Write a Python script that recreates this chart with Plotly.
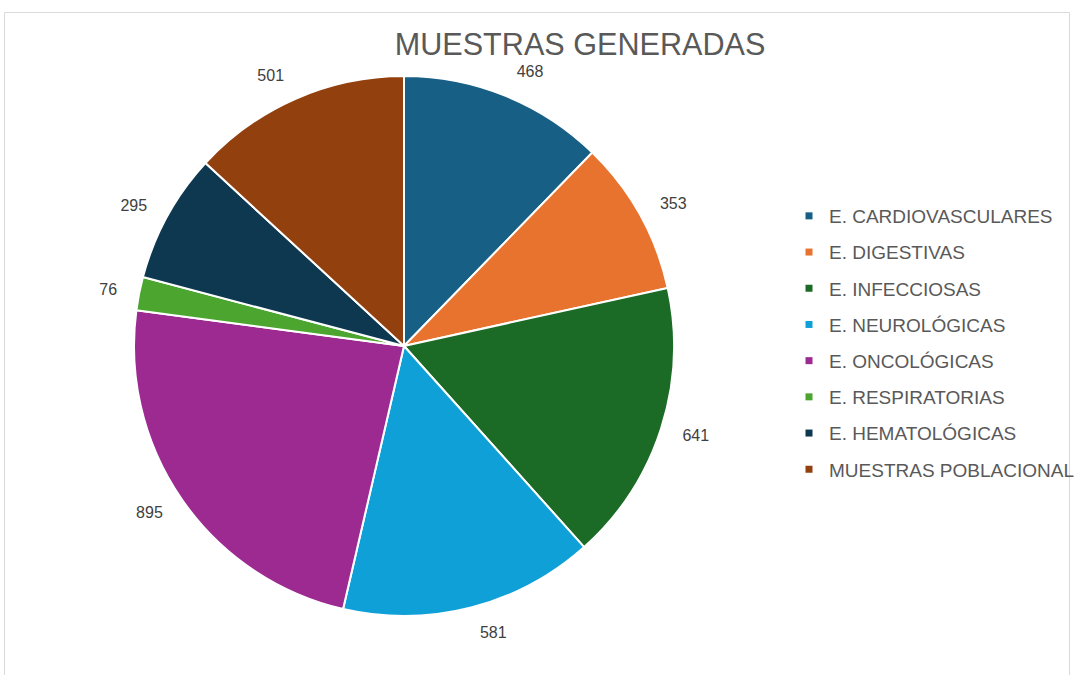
import plotly.graph_objects as go

categories = ["E. CARDIOVASCULARES", "E. DIGESTIVAS", "E. INFECCIOSAS", "E. NEUROLÓGICAS",
              "E. ONCOLÓGICAS", "E. RESPIRATORIAS", "E. HEMATOLÓGICAS", "MUESTRAS POBLACIONAL"]
values = [468, 353, 641, 581, 895, 76, 295, 501]
colors = ["#175f85", "#e8732f", "#1b6b26", "#10a0d8", "#9c2a90", "#4ba52f", "#0e3850", "#93400f"]
title_text = "MUESTRAS GENERADAS"

VW, VH = 1074, 675               # visible window
W, H = 1140, VH                  # figure is wider than the window so the legend never pushes margins
cx, cy = 404, 346                # pie centre in pixels (from top-left)
r_pie, r_lab = 270, 288          # pie radius / label ring radius


def dom(r):
    return dict(x=[(cx - r) / W, (cx + r) / W],
                y=[(H - cy - r) / H, (H - cy + r) / H])


fig = go.Figure()
fig.add_trace(go.Pie(
    labels=categories, values=values, sort=False, direction="clockwise", rotation=0,
    marker=dict(colors=colors, line=dict(color="white", width=2)),
    textinfo="none", showlegend=False, domain=dom(r_pie), hoverinfo="label+value",
))
fig.add_trace(go.Pie(
    labels=categories, values=values, sort=False, direction="clockwise", rotation=0,
    marker=dict(colors=["rgba(0,0,0,0)"] * len(values), line=dict(width=0)),
    textinfo="value", textposition="outside",
    outsidetextfont=dict(family="Liberation Sans, Arial", size=16, color="#404040"),
    showlegend=False, domain=dom(r_lab), hoverinfo="skip",
))
for i, (c, col) in enumerate(zip(categories, colors)):
    fig.add_trace(go.Scatter(
        x=[None], y=[None], mode="markers", name=c, legendgroup=f"g{i}",
        marker=dict(symbol="square", size=7, color=col),
    ))

fig.update_layout(
    width=W, height=H,
    margin=dict(l=0, r=0, t=0, b=0),
    paper_bgcolor="white", plot_bgcolor="white",
    font=dict(family="Liberation Sans, Arial", color="#595959"),
    title=dict(text=title_text, x=580 / W, xanchor="center",
               y=1 - 44 / H, yanchor="middle",
               font=dict(size=30.6, color="#595959")),
    xaxis=dict(visible=False), yaxis=dict(visible=False),
    legend=dict(x=789 / W, xanchor="left", y=1 - 343 / H, yanchor="middle",
                font=dict(size=19, color="#595959"), tracegroupgap=8.5,
                bgcolor="rgba(0,0,0,0)"),
    shapes=[dict(type="rect", xref="paper", yref="paper",
                 x0=4.5 / W, x1=1069.5 / W, y0=-0.05, y1=1 - 12.5 / H,
                 line=dict(color="#d9d9d9", width=1), fillcolor="rgba(0,0,0,0)", layer="below")],
)

fig.write_html(
    "out.html",
    config={"displayModeBar": False},
    post_script=("document.body.style.margin='0';"
                 "document.body.style.overflow='hidden';"
                 "document.documentElement.style.overflow='hidden';"),
)
